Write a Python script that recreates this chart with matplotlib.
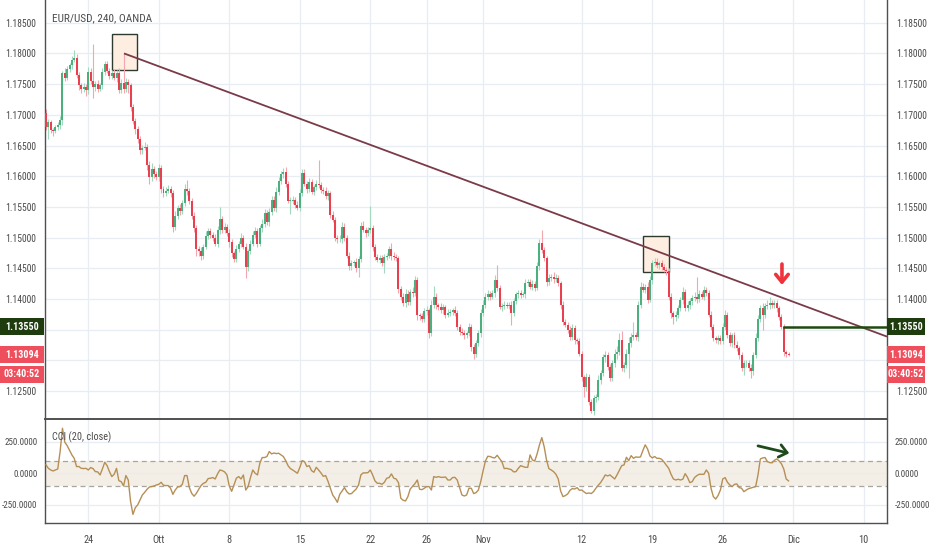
import os
import matplotlib
matplotlib.use('Agg')
import matplotlib.pyplot as plt
from matplotlib import font_manager
from matplotlib.font_manager import FontProperties
from matplotlib.patches import Rectangle
import matplotlib.transforms as mtransforms

# ---------------- fonts (prefer a narrow sans like the reference) ----------------
_files = {os.path.basename(f.fname).lower(): f.fname for f in font_manager.fontManager.ttflist}


def _pick(options):
    for o in options:
        if o in _files:
            return _files[o]
    return None


REG = _pick(['liberationsansnarrow-regular.ttf', 'robotocondensed-regular.ttf',
             'notosans-condensed.ttf', 'dejavusanscondensed.ttf'])
BOLD = _pick(['liberationsansnarrow-bold.ttf', 'robotocondensed-bold.ttf',
              'notosans-condensedbold.ttf', 'dejavusanscondensed-bold.ttf'])
SCALE = 1.0 if REG else 0.88


def fp(size, bold=False):
    path = BOLD if (bold and BOLD) else REG
    if path:
        p = FontProperties(fname=path, size=size * SCALE)
        if bold and not BOLD:
            p.set_weight('bold')
        return p
    return FontProperties(family=['Liberation Sans', 'DejaVu Sans'], size=size * SCALE,
                          weight='bold' if bold else 'normal')


# ---------------- data ----------------
title = "EUR/USD, 240, OANDA"
cci_title = "CCI (20, close)"
first_open = 1.1703
closes = [
    1.1680, 1.1688, 1.1676, 1.1674, 1.1680, 1.1683, 1.1692, 1.1768, 1.1760, 1.1775,
    1.1781, 1.1790, 1.1793, 1.1765, 1.1748, 1.1742, 1.1746, 1.1740, 1.1770, 1.1755,
    1.1745, 1.1750, 1.1742, 1.1748, 1.1770, 1.1782, 1.1772, 1.1764, 1.1768, 1.1760,
    1.1768, 1.1740, 1.1752, 1.1742, 1.1754, 1.1748, 1.1712, 1.1690, 1.1677, 1.1660,
    1.1642, 1.1646, 1.1648, 1.1618, 1.1598, 1.1612, 1.1603, 1.1598, 1.1613, 1.1580,
    1.1572, 1.1576, 1.1580, 1.1572, 1.1517, 1.1535, 1.1548, 1.1543, 1.1556, 1.1580,
    1.1576, 1.1560, 1.1535, 1.1515, 1.1482, 1.1478, 1.1470, 1.1485, 1.1503, 1.1510,
    1.1505, 1.1500, 1.1490, 1.1512, 1.1530, 1.1512, 1.1518, 1.1508, 1.1493, 1.1475,
    1.1465, 1.1482, 1.1490, 1.1500, 1.1485, 1.1452, 1.1478, 1.1490, 1.1505, 1.1510,
    1.1490, 1.1515, 1.1522, 1.1540, 1.1525, 1.1542, 1.1562, 1.1548, 1.1575, 1.1592,
    1.1603, 1.1607, 1.1588, 1.1560, 1.1560, 1.1562, 1.1553, 1.1549, 1.1572, 1.1606,
    1.1588, 1.1579, 1.1591, 1.1575, 1.1582, 1.1588, 1.1585, 1.1578, 1.1576, 1.1567,
    1.1572, 1.1537, 1.1529, 1.1500, 1.1497, 1.1498, 1.1518, 1.1500, 1.1470, 1.1453,
    1.1458, 1.1460, 1.1450, 1.1465, 1.1519, 1.1513, 1.1507, 1.1512, 1.1515, 1.1485,
    1.1468, 1.1464, 1.1467, 1.1458, 1.1468, 1.1470, 1.1482, 1.1470, 1.1468, 1.1466,
    1.1416, 1.1404, 1.1393, 1.1408, 1.1395, 1.1412, 1.1410, 1.1431, 1.1374, 1.1372,
    1.1367, 1.1380, 1.1382, 1.1344, 1.1390, 1.1404, 1.1390, 1.1387, 1.1382, 1.1387,
    1.1374, 1.1378, 1.1379, 1.1382, 1.1377, 1.1355, 1.1346, 1.1345, 1.1341, 1.1344,
    1.1355, 1.1322, 1.1311, 1.1328, 1.1344, 1.1377, 1.1390, 1.1404, 1.1408, 1.1404,
    1.1409, 1.1431, 1.1418, 1.1387, 1.1389, 1.1390, 1.1389, 1.1391, 1.1378, 1.1396,
    1.1408, 1.1409, 1.1407, 1.1408, 1.1426, 1.1428, 1.1420, 1.1425, 1.1418, 1.1453,
    1.1491, 1.1480, 1.1466, 1.1428, 1.1434, 1.1436, 1.1432, 1.1434, 1.1426, 1.1390,
    1.1363, 1.1358, 1.1350, 1.1338, 1.1352, 1.1333, 1.1331, 1.1311, 1.1273, 1.1257,
    1.1273, 1.1233, 1.1217, 1.1238, 1.1240, 1.1268, 1.1279, 1.1306, 1.1309, 1.1290,
    1.1271, 1.1295, 1.1311, 1.1314, 1.1333, 1.1287, 1.1292, 1.1311, 1.1328, 1.1338,
    1.1341, 1.1338, 1.1390, 1.1420, 1.1415, 1.1420, 1.1399, 1.1431, 1.1458, 1.1461,
    1.1455, 1.1458, 1.1452, 1.1448, 1.1445, 1.1404, 1.1377, 1.1371, 1.1374, 1.1385,
    1.1398, 1.1412, 1.1385, 1.1390, 1.1396, 1.1401, 1.1404, 1.1400, 1.1408, 1.1404,
    1.1415, 1.1410, 1.1374, 1.1355, 1.1336, 1.1333, 1.1336, 1.1331, 1.1355, 1.1374,
    1.1341, 1.1328, 1.1341, 1.1325, 1.1320, 1.1309, 1.1287, 1.1295, 1.1296, 1.1288,
    1.1282, 1.1309, 1.1336, 1.1368, 1.1385, 1.1374, 1.1388, 1.1390, 1.1393, 1.1390,
    1.1393, 1.1385, 1.1371, 1.1355, 1.1314, 1.1311, 1.13094,
]
upper_wick_pips = [
    6, 5, 4, 3, 4, 5, 6, 4, 8, 5,
    4, 5, 12, 6, 5, 4, 6, 5, 8, 6,
    60, 5, 6, 4, 7, 5, 6, 4, 5, 6,
    5, 8, 6, 48, 6, 5, 4, 6, 5, 4,
    6, 5, 8, 5, 6, 10, 5, 6, 7, 5,
    4, 6, 5, 4, 6, 8, 5, 6, 5, 8,
    14, 5, 4, 6, 5, 4, 6, 5, 8, 6,
    5, 4, 6, 7, 20, 6, 5, 4, 6, 5,
    4, 6, 5, 7, 5, 6, 4, 6, 5, 7,
    5, 6, 8, 6, 5, 7, 6, 5, 8, 6,
    5, 6, 8, 5, 6, 5, 4, 6, 8, 6,
    5, 4, 6, 5, 4, 6, 38, 5, 4, 6,
    5, 4, 6, 5, 4, 6, 8, 5, 4, 6,
    5, 4, 6, 5, 6, 8, 5, 6, 36, 5,
    4, 6, 5, 4, 6, 5, 4, 10, 6, 5,
    4, 6, 5, 8, 6, 5, 7, 6, 5, 4,
    6, 5, 7, 4, 8, 18, 5, 4, 6, 5,
    4, 6, 5, 4, 6, 5, 4, 6, 5, 4,
    6, 5, 4, 6, 5, 6, 8, 5, 6, 5,
    6, 8, 25, 5, 4, 6, 5, 4, 6, 5,
    4, 6, 5, 4, 6, 5, 4, 6, 5, 8,
    6, 22, 5, 4, 6, 5, 8, 6, 5, 4,
    6, 5, 4, 6, 8, 5, 4, 6, 5, 4,
    6, 5, 4, 6, 5, 8, 6, 5, 6, 5,
    4, 6, 8, 10, 12, 15, 6, 8, 10, 6,
    22, 5, 6, 8, 6, 5, 8, 6, 5, 6,
    5, 4, 6, 5, 4, 6, 5, 4, 6, 5,
    6, 8, 5, 6, 5, 6, 8, 32, 6, 5,
    6, 5, 4, 6, 5, 4, 6, 5, 6, 8,
    5, 6, 4, 5, 6, 4, 5, 6, 5, 4,
    6, 5, 8, 6, 5, 8, 6, 8, 10, 6,
    5, 6, 4, 5, 4, 3, 2,
]
lower_wick_pips = [
    5, 20, 6, 8, 4, 5, 6, 8, 5, 4,
    5, 6, 4, 5, 8, 6, 5, 10, 6, 5,
    17, 6, 5, 4, 6, 5, 4, 6, 5, 4,
    6, 5, 4, 6, 5, 12, 6, 5, 8, 6,
    5, 6, 4, 8, 10, 5, 6, 4, 5, 8,
    6, 5, 4, 6, 8, 5, 4, 6, 5, 4,
    6, 5, 4, 6, 12, 8, 6, 5, 4, 6,
    5, 6, 4, 5, 6, 5, 4, 6, 8, 6,
    5, 4, 6, 5, 4, 18, 6, 5, 4, 6,
    5, 4, 6, 5, 4, 6, 5, 4, 6, 5,
    4, 6, 5, 4, 22, 6, 5, 4, 6, 5,
    4, 6, 5, 4, 6, 5, 4, 6, 5, 4,
    6, 5, 4, 6, 5, 4, 6, 5, 4, 6,
    5, 4, 6, 14, 5, 4, 6, 5, 4, 6,
    5, 4, 6, 5, 16, 5, 4, 6, 5, 4,
    6, 5, 4, 6, 5, 4, 6, 5, 8, 6,
    5, 4, 6, 8, 5, 4, 6, 5, 4, 6,
    5, 4, 6, 5, 4, 6, 5, 4, 6, 5,
    4, 6, 8, 5, 4, 6, 5, 4, 6, 5,
    4, 6, 5, 4, 6, 5, 4, 6, 20, 5,
    4, 6, 5, 4, 6, 5, 4, 6, 5, 4,
    6, 5, 4, 6, 5, 4, 6, 5, 4, 6,
    5, 4, 6, 5, 4, 6, 5, 4, 6, 16,
    6, 5, 3, 6, 5, 4, 6, 5, 8, 6,
    5, 4, 6, 8, 5, 4, 6, 5, 40, 6,
    5, 4, 6, 5, 4, 6, 5, 4, 6, 5,
    4, 6, 5, 4, 6, 5, 8, 11, 6, 5,
    4, 6, 5, 4, 6, 5, 4, 6, 5, 4,
    6, 5, 4, 6, 5, 4, 6, 5, 4, 6,
    5, 4, 6, 5, 4, 6, 5, 11, 6, 5,
    11, 6, 5, 4, 6, 24, 5, 4, 6, 5,
    4, 6, 5, 4, 6, 5, 3,
]
cci = [
    66, 39, 26, 18, 26, 34, 171, 355, 245, 218,
    181, 145, 118, 53, 53, 39, 37, 39, 26, 45,
    37, 13, 11, -13, 34, 87, 60, 13, -26, -8,
    39, -58, -66, -100, -18, -53, -224, -324, -271, -250,
    -210, -171, -150, -126, -108, -105, -100, -92, -87, -71,
    -95, -97, -97, -118, -166, -132, -108, -105, -87, -18,
    -18, -113, -158, -181, -158, -126, -97, -79, -71, -42,
    -39, -34, -45, -5, 26, 21, 11, -13, -100, -142,
    -92, -39, -26, -45, -13, -132, -105, -34, 26, 0,
    -13, 79, 124, 124, 132, 171, 153, 160, 155, 158,
    145, 132, 100, 60, 37, 26, 13, 0, 45, 100,
    92, 53, 60, 21, 8, 47, 26, 3, -24, -18,
    -63, -118, -171, -197, -229, -166, -139, -113, -145, -163,
    -160, -142, -124, -92, -13, 3, 3, 5, 26, -13,
    -60, -79, -79, -87, -71, -39, -34, -5, -39, -45,
    -74, -197, -213, -218, -184, -124, -103, -82, -53, -126,
    -129, -118, -105, -105, -132, -26, -32, -26, -32, -32,
    -29, -53, -53, -34, -32, -53, -113, -171, -179, -171,
    -118, -118, -160, -153, -132, -66, 18, 97, 134, 132,
    124, 121, 142, 116, 92, 37, 39, 34, 29, 11,
    13, 39, 60, 53, 47, 47, 145, 105, 97, 153,
    224, 281, 210, 105, 37, 26, 13, -8, -45, -139,
    -184, -176, -163, -134, -121, -124, -113, -134, -132, -147,
    -160, -155, -160, -145, -118, -95, -74, -45, -13, -21,
    -13, -29, -45, -13, 24, 60, 66, 126, 100, 139,
    118, 129, 126, 129, 179, 224, 192, 137, 121, 132,
    118, 118, 110, 89, 63, 39, -8, -45, -53, -47,
    -53, -47, -3, -32, -74, -66, -34, -18, -8, -8,
    -8, 26, 0, -118, -184, -203, -176, -132, -45, -34,
    -71, -92, -105, -87, -84, -113, -118, -145, -132, -121,
    -116, -110, -105, -13, 113, 121, 124, 92, 84, 82,
    103, 113, 97, 74, 32, -45, -60,
]
date_tick_index = [18, 48, 78, 108, 138, 162, 186, 228, 258, 288, 318, 348]
date_tick_labels = ["24", "Ott", "8", "15", "22", "26", "Nov", "12", "19", "26", "Dic", "10"]
price_grid = [1.125, 1.130, 1.135, 1.140, 1.145, 1.150, 1.155, 1.160,
              1.165, 1.170, 1.175, 1.180, 1.185]
price_hidden = [1.130, 1.135]
cci_ticks = [250, 0, -250]
cci_tick_labels = ["250.0000", "0.0000", "-250.0000"]
cci_band = [-100, 100]
trend_points = [(33.2, 1.1800), (357.9, 1.13388)]
boxes = [(28.1, 1.17730, 38.7, 1.18316), (253.9, 1.14435, 265.2, 1.15031)]
support_level = 1.1355
support_start = 314
last_price = 1.13094
countdown = "03:40:52"
countdown_level = 1.12778
red_arrow = [(313.2, 1.14570), (313.2, 1.14230)]
cci_arrow = [(303.0, 216), (316.3, 158)]

# ---------------- figure ----------------
W, H = 932, 550
fig = plt.figure(figsize=(W / 100, H / 100), dpi=100)
fig.patch.set_facecolor('white')
L, R = 45, 887
ax = fig.add_axes([L / W, (H - 419) / H, (R - L) / W, 419 / H])
axc = fig.add_axes([L / W, (H - 523) / H, (R - L) / W, 103 / H], sharex=ax)

XL = (-0.43, 357.9)
ax.set_xlim(*XL)
ax.set_ylim(1.12046, 1.18870)
axc.set_ylim(-392, 420)

TXT = '#4a4a4a'
SPINE = '#505050'
GRID = '#e7edf2'
UP, DOWN = '#4caf7e', '#e8404f'
UPW, DOWNW = '#a3d9bf', '#f4a5ae'

# candles
opens = [first_open] + closes[:-1]
xs = list(range(len(closes)))
bottoms, heights, bcol, highs, lows, wcol = [], [], [], [], [], []
for o, c, uw, lw in zip(opens, closes, upper_wick_pips, lower_wick_pips):
    top, bot = max(o, c), min(o, c)
    bottoms.append(bot)
    heights.append(max(top - bot, 0.00005))
    up = c >= o
    bcol.append(UP if up else DOWN)
    wcol.append(UPW if up else DOWNW)
    highs.append(top + uw / 10000.0)
    lows.append(bot - lw / 10000.0)
ax.vlines(xs, lows, highs, colors=wcol, linewidth=0.8, zorder=2)
ax.bar(xs, heights, bottom=bottoms, width=0.85, color=bcol, linewidth=0, zorder=3)

# grid
for gx in date_tick_index:
    ax.axvline(gx, color=GRID, lw=0.9, zorder=0)
    axc.axvline(gx, color=GRID, lw=0.9, zorder=0)
for gy in price_grid:
    ax.axhline(gy, color=GRID, lw=0.9, zorder=0)
for gy in cci_ticks:
    axc.axhline(gy, color=GRID, lw=0.9, zorder=0.6)

# boxes
for x0, y0, x1, y1 in boxes:
    ax.add_patch(Rectangle((x0, y0), x1 - x0, y1 - y0, facecolor='#fdeee1',
                           edgecolor='#2e3a2e', lw=1.0, zorder=1.5))

# trend line
ax.plot([p[0] for p in trend_points], [p[1] for p in trend_points],
        color='#7a3a48', lw=1.3, zorder=5, solid_capstyle='butt')
# support line
ax.plot([support_start, XL[1]], [support_level, support_level],
        color='#1f4a0e', lw=1.8, zorder=5)
# red arrow
ax.annotate('', xy=red_arrow[1], xytext=red_arrow[0],
            arrowprops=dict(arrowstyle='->,head_length=0.55,head_width=0.45',
                            color='#f0323c', lw=2.6, mutation_scale=10,
                            shrinkA=0, shrinkB=0), zorder=6)

# price axis labels
lab_prices = [p for p in price_grid if p not in price_hidden]
ax.set_yticks(lab_prices)
ax.set_yticklabels(['%.5f' % p for p in lab_prices])
ax.tick_params(axis='y', which='both', left=False, right=False, labelleft=True,
               labelright=True, colors=TXT, pad=3)
ax.tick_params(axis='x', which='both', bottom=False, labelbottom=False)

# CCI panel
axc.axhspan(cci_band[0], cci_band[1], color='#f4efe6', zorder=0.5, lw=0)
for b in cci_band:
    axc.axhline(b, color='#a9a49c', lw=0.9, ls=(0, (4, 3)), zorder=1)
axc.plot(range(len(cci)), cci, color='#b68f56', lw=1.0, zorder=3)
axc.annotate('', xy=cci_arrow[1], xytext=cci_arrow[0],
             arrowprops=dict(arrowstyle='->,head_length=0.55,head_width=0.45',
                             color='#1f4a1c', lw=2.0, mutation_scale=10,
                             shrinkA=0, shrinkB=0), zorder=6)
axc.set_yticks(cci_ticks)
axc.set_yticklabels(cci_tick_labels)
axc.tick_params(axis='y', which='both', left=False, right=False, labelleft=True,
                labelright=True, colors=TXT, pad=2)
axc.set_xticks(date_tick_index)
axc.set_xticklabels(date_tick_labels)
axc.tick_params(axis='x', which='both', bottom=False, labelbottom=True,
                colors=TXT, pad=5)
ax.set_xlim(*XL)

for a in (ax, axc):
    a.set_facecolor('white')
    a.spines['top'].set_visible(False)
    for s in ('left', 'right', 'bottom'):
        a.spines[s].set_color(SPINE)
        a.spines[s].set_linewidth(1.0)
ax.spines['bottom'].set_linewidth(1.4)

for t in ax.yaxis.get_major_ticks():
    t.label1.set_fontproperties(fp(6.9))
    t.label2.set_fontproperties(fp(6.9))
for t in axc.yaxis.get_major_ticks():
    t.label1.set_fontproperties(fp(6.5))
    t.label2.set_fontproperties(fp(6.5))
for t in axc.xaxis.get_major_ticks():
    t.label1.set_fontproperties(fp(7.4))

# titles
ax.text((52 - L) / (R - L), 1 - 18 / 419, title, transform=ax.transAxes,
        ha='left', va='center', fontproperties=fp(8.1), color='#4c4c4c', zorder=8)
axc.text((52 - L) / (R - L), (523 - 437) / 103, cci_title, transform=axc.transAxes,
         ha='left', va='center', fontproperties=fp(7.4), color='#4c4c4c', zorder=8)

# price label boxes on both scales
bt = mtransforms.blended_transform_factory(fig.transFigure, ax.transData)
hbox = 17 / 6140.0
labels = [(support_level, '%.5f' % support_level, '#1e3c0d'),
          (last_price, '%.5f' % last_price, '#ef4f5d'),
          (countdown_level, countdown, '#ef4f5d')]
for lvl, txt, col in labels:
    for x0, x1 in ((0, 44), (887, 925)):
        ax.add_patch(Rectangle((x0 / W, lvl - hbox / 2), (x1 - x0) / W, hbox,
                               transform=bt, facecolor=col, edgecolor='none',
                               clip_on=False, zorder=10))
        ax.text((x0 + x1) / 2 / W, lvl, txt, transform=bt, ha='center', va='center',
                color='white', fontproperties=fp(7.2, bold=True), clip_on=False,
                zorder=11)

fig.savefig('out.png', dpi=100, facecolor='white')
